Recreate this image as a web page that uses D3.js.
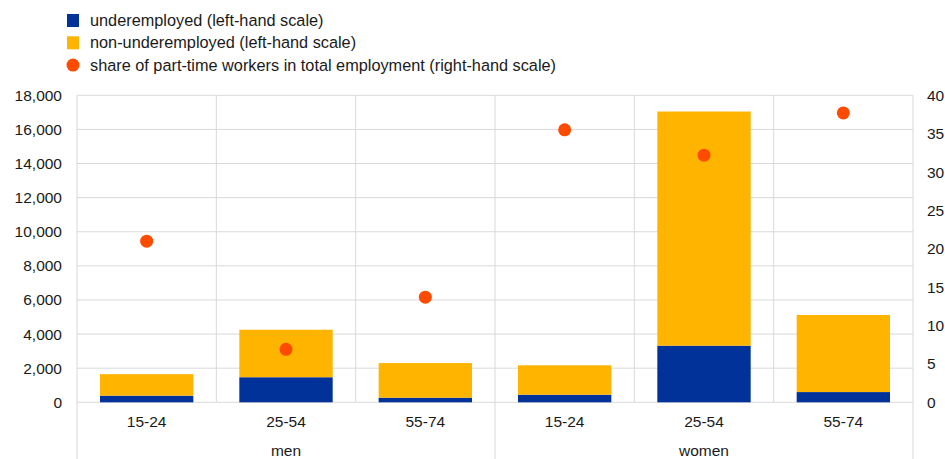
<!DOCTYPE html>
<html><head><meta charset="utf-8">
<script src="https://cdn.jsdelivr.net/npm/d3@7/dist/d3.min.js"></script>
<style>body{margin:0;background:#fff}svg{display:block;font-family:Arial,"Liberation Sans",sans-serif}</style>
</head><body><svg id="c" width="945" height="459"></svg>
<script>
const groups = ["men","men","men","women","women","women"];
const ages = ["15-24","25-54","55-74","15-24","25-54","55-74"];
const underemployed = [390, 1470, 270, 445, 3320, 600];
const nonUnderemployed = [1260, 2785, 2030, 1725, 13730, 4520];
const shareParttime = [21.0, 6.9, 13.7, 35.5, 32.2, 37.7];
const leftTicks = [0,2000,4000,6000,8000,10000,12000,14000,16000,18000];
const rightTicks = [0,5,10,15,20,25,30,35,40];
const legendLabels = ["underemployed (left-hand scale)","non-underemployed (left-hand scale)","share of part-time workers in total employment (right-hand scale)"];
const colors = ["#003299","#FFB400","#FF4B00"];

const svg = d3.select("#c");
const m = {l:77, r:913, t:95.3, b:402.3};
const idx = d3.range(ages.length);
const x = d3.scaleBand().domain(idx).range([m.l, m.r]).paddingInner(0).paddingOuter(0);
const yL = d3.scaleLinear().domain([0,18000]).range([m.b, m.t]);
const yR = d3.scaleLinear().domain([0,40]).range([m.b, m.t]);
const grid = "#d9d9d9";
const fs = 15.5, txt = "#1a1a1a";

svg.append("g").selectAll("line").data(leftTicks).join("line")
  .attr("x1", m.l).attr("x2", m.r).attr("y1", d=>yL(d)).attr("y2", d=>yL(d))
  .attr("stroke", grid).attr("stroke-width",1);
svg.append("g").selectAll("line").data(d3.range(ages.length+1)).join("line")
  .attr("x1", i=>m.l + i*x.bandwidth()).attr("x2", i=>m.l + i*x.bandwidth())
  .attr("y1", m.t)
  .attr("y2", i=> (i===0 || i===3 || i===6) ? 459 : m.b)
  .attr("stroke", grid).attr("stroke-width",1);

const bw = x.bandwidth()*0.67;
const stack = idx.map(i=>[[0, underemployed[i]],[underemployed[i], underemployed[i]+nonUnderemployed[i]]]);
[0,1].forEach(s=>{
  svg.append("g").selectAll("rect").data(idx).join("rect")
    .attr("x", i=>x(i)+(x.bandwidth()-bw)/2).attr("width", bw)
    .attr("y", i=>yL(stack[i][s][1])).attr("height", i=>yL(stack[i][s][0])-yL(stack[i][s][1]))
    .attr("fill", colors[s]);
});
svg.append("g").selectAll("circle").data(idx).join("circle")
  .attr("cx", i=>x(i)+x.bandwidth()/2).attr("cy", i=>yR(shareParttime[i])).attr("r", 6.5)
  .attr("fill", colors[2]);

const fmt = d3.format(",");
const axL = svg.append("g").attr("transform",`translate(${m.l},0)`)
  .call(d3.axisLeft(yL).tickValues(leftTicks).tickFormat(fmt).tickSize(0).tickPadding(15));
const axR = svg.append("g").attr("transform",`translate(${m.r},0)`)
  .call(d3.axisRight(yR).tickValues(rightTicks).tickSize(0).tickPadding(14));
[axL,axR].forEach(a=>{a.select(".domain").remove();a.selectAll("text").attr("font-size",fs).attr("fill",txt).attr("font-family","Arial,'Liberation Sans',sans-serif");});

svg.append("g").selectAll("text").data(idx).join("text")
  .attr("x", i=>x(i)+x.bandwidth()/2).attr("y", 427).attr("text-anchor","middle")
  .attr("font-size",fs).attr("fill",txt).text(i=>ages[i]);
const grpNames = Array.from(new Set(groups));
svg.append("g").selectAll("text").data(grpNames).join("text")
  .attr("x", g=>{const ii=idx.filter(i=>groups[i]===g); return (x(ii[0])+x(ii[ii.length-1])+x.bandwidth())/2;})
  .attr("y", 456).attr("text-anchor","middle").attr("font-size",fs).attr("fill",txt).text(g=>g);

const lg = svg.append("g");
legendLabels.forEach((t,i)=>{
  const cy = 20.5 + i*22.3;
  if(i<2) lg.append("rect").attr("x",67).attr("y",cy-6.5).attr("width",12).attr("height",13).attr("fill",colors[i]);
  else lg.append("circle").attr("cx",73).attr("cy",cy).attr("r",6.5).attr("fill",colors[i]);
  lg.append("text").attr("x",90).attr("y",cy+5.5).attr("font-size",16.3).attr("fill",txt).text(t);
});
</script></body></html>
